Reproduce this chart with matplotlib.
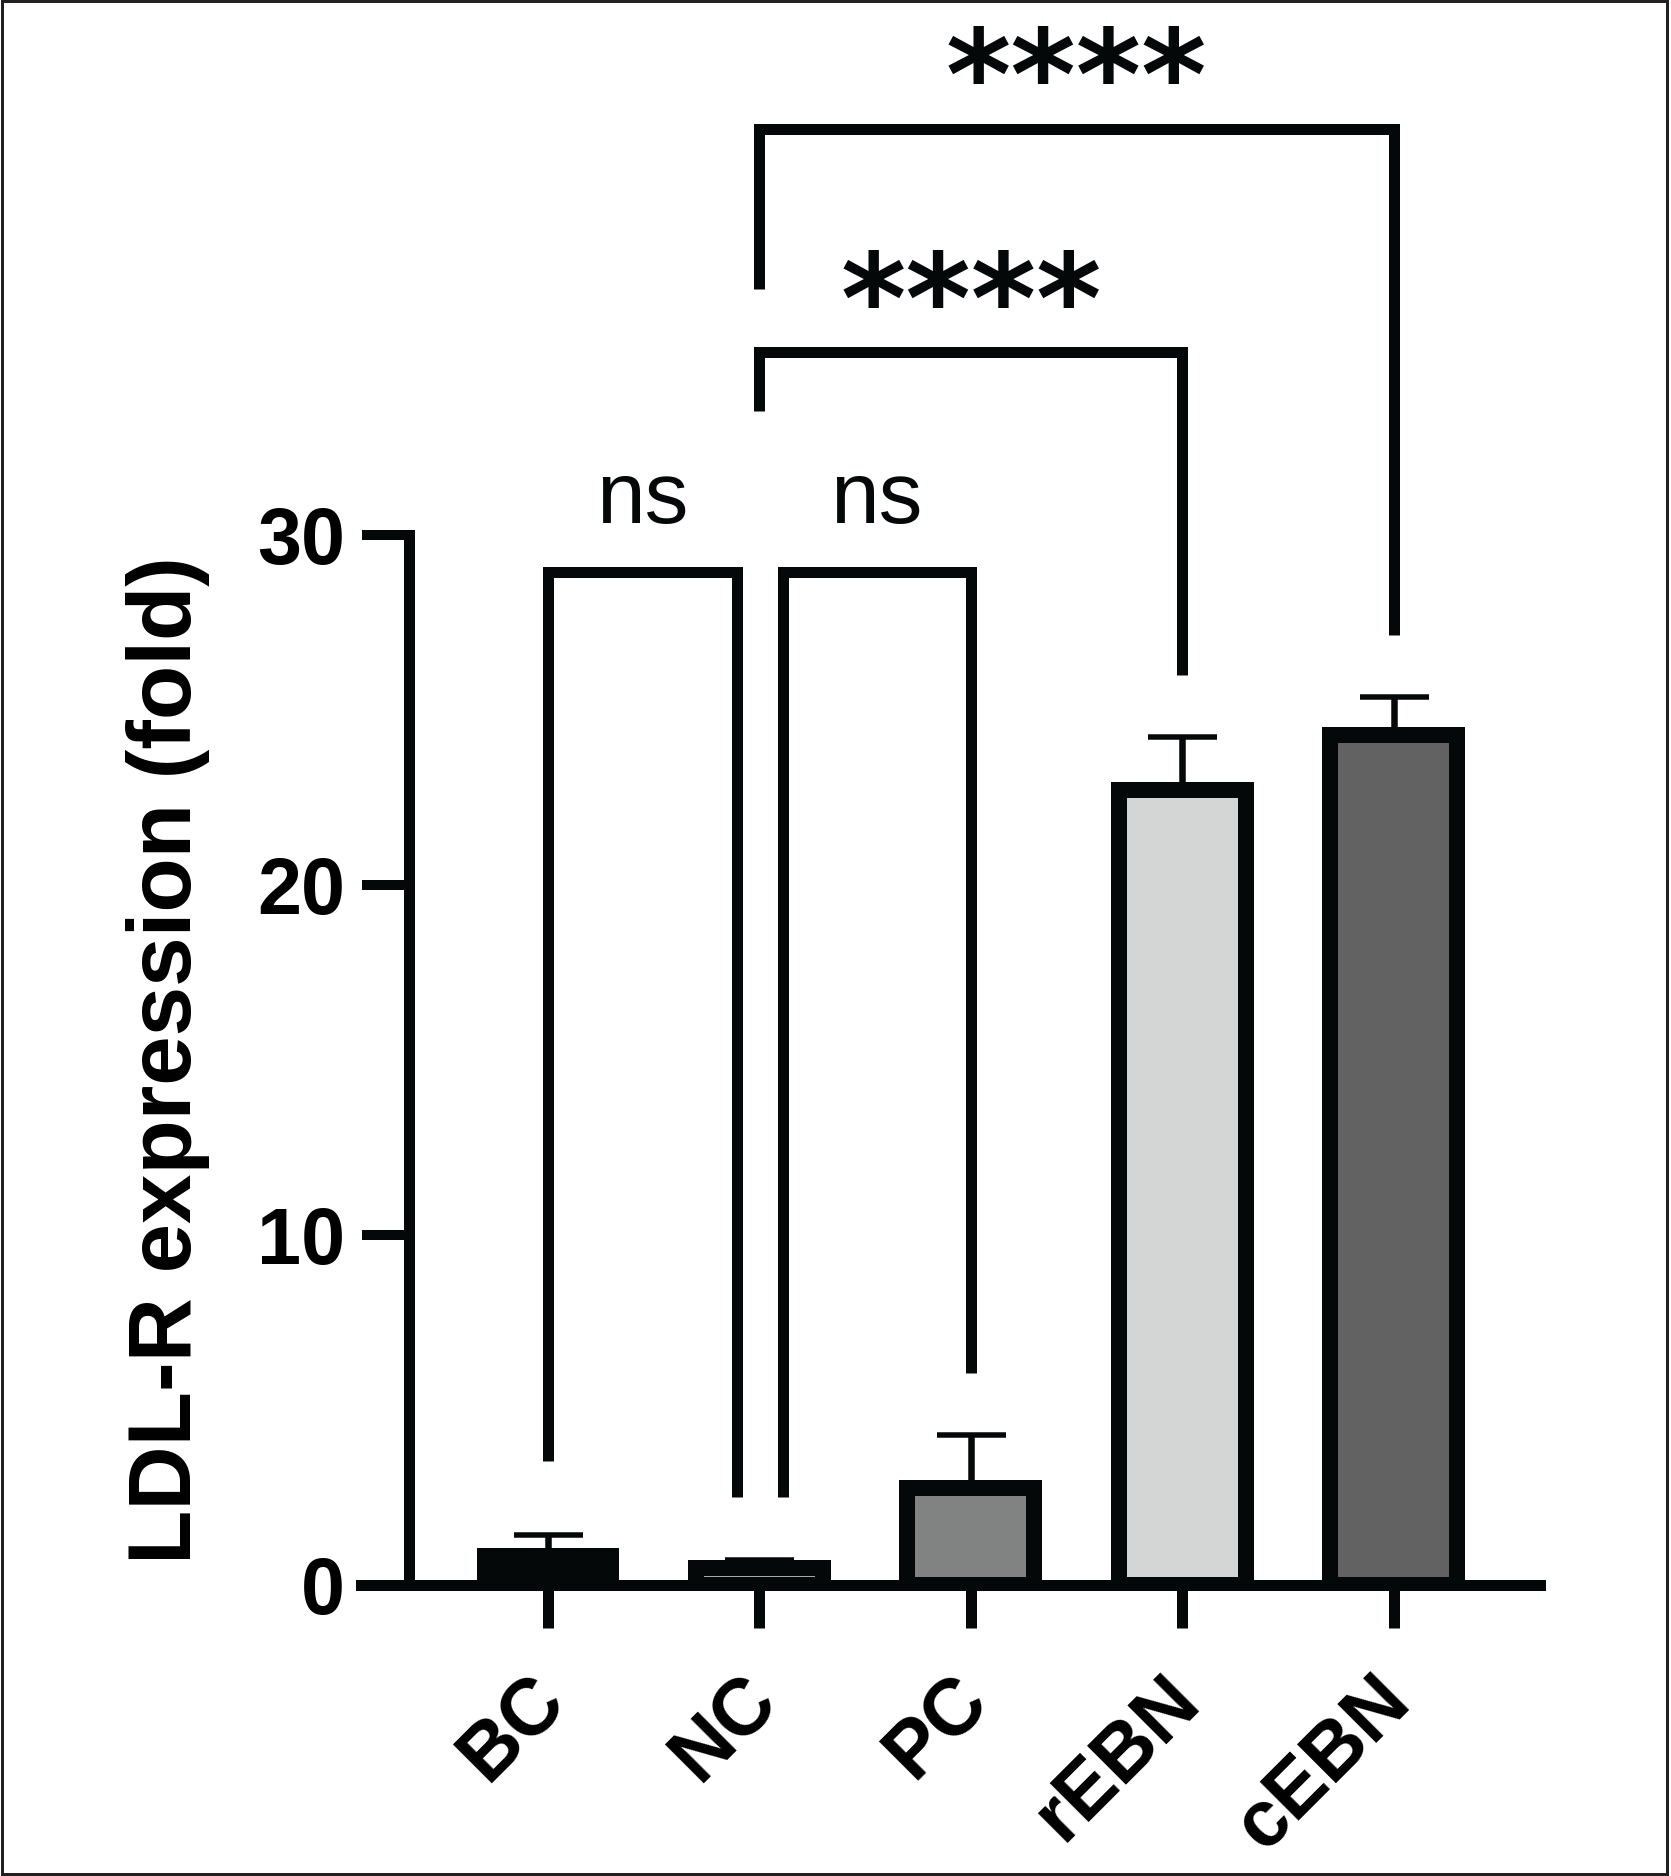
import numpy as np
import matplotlib
matplotlib.use('Agg')
import matplotlib.pyplot as plt
from matplotlib import transforms
from matplotlib.patches import Rectangle

plt.rcParams['font.family'] = ['Liberation Sans', 'DejaVu Sans']

# data
groups = ['BC', 'NC', 'PC', 'rEBN', 'cEBN']
means = [0.82, 0.48, 2.76, 22.70, 24.29]
err_up = [0.62, 0.23, 1.53, 1.52, 1.08]
fill_colors = ['#050808', '#a7a9aa', '#808382', '#d3d6d5', '#626262']
yticks = [0, 10, 20, 30]

# multiple comparisons (group index pairs) and their labels
pairs = [(0, 1), (1, 2), (1, 3), (1, 4)]
sig_labels = ['ns', 'ns', '****', '****']
# bracket geometry (y in data units)
bar_top = [28.94, 28.94, 35.23, 41.59]
leg_left = [3.55, 2.51, 33.55, 37.04]
leg_right = [2.51, 6.06, 26.0, 27.14]
inset_left = [0.0, 0.11, 0.0, 0.0]
inset_right = [-0.105, 0.0, 0.0, 0.0]
text_y = [30.33, 30.33, 35.5, 41.9]
text_size = [63, 63, 90, 90]
text_font = ['Liberation Sans', 'Liberation Sans', 'DejaVu Sans', 'DejaVu Sans']
text_weight = ['normal', 'normal', 'bold', 'bold']

BLACK = '#050808'
PT = 0.72  # points per pixel at dpi 100
W, H = 1671, 1876

fig = plt.figure(figsize=(W / 100, H / 100), dpi=100)
ax = fig.add_axes([361 / W, 1 - 1585 / H, (1539.5 - 361) / W, 1540 / H])

x = np.arange(len(groups))
ax.bar(x, means, width=0.6, color=fill_colors, edgecolor=BLACK,
       linewidth=16 * PT, zorder=3)
ax.errorbar(x, means, yerr=[np.zeros(len(x)), err_up], fmt='none',
            ecolor=BLACK, elinewidth=6.5 * PT, capsize=34.5 * PT,
            capthick=5.5 * PT, zorder=2)

ax.set_xlim(-0.885, 4.69)
ax.set_ylim(0, 44)
ax.spines['top'].set_visible(False)
ax.spines['right'].set_visible(False)
ax.spines['left'].set_position(('data', -0.6575))
ax.spines['left'].set_bounds(0, 30)
ax.spines['left'].set_linewidth(11 * PT)
ax.spines['bottom'].set_linewidth(11 * PT)
ax.spines['left'].set_color(BLACK)
ax.spines['bottom'].set_color(BLACK)

ax.set_yticks(yticks, labels=[str(t) for t in yticks], fontweight='bold')
ax.tick_params(axis='y', length=47 * PT, width=10 * PT, pad=17 * PT,
               labelsize=57, color=BLACK)
ax.set_xticks(x, labels=groups, rotation=45, ha='right', va='baseline',
              rotation_mode='anchor', fontweight='bold')
ax.tick_params(axis='x', length=43 * PT, width=11 * PT, pad=75 * PT,
               labelsize=57, color=BLACK)
shift = transforms.ScaledTranslation(20 / 100, 0, fig.dpi_scale_trans)
for lab in ax.get_xticklabels():
    lab.set_transform(lab.get_transform() + shift)

ax.set_ylabel('LDL-R expression (fold)', fontsize=64, fontweight='bold')
ax.yaxis.set_label_coords(210 / W, 15,
                          transform=transforms.blended_transform_factory(fig.transFigure, ax.transData))

# significance brackets
for k, (i, j) in enumerate(pairs):
    xl = x[i] + inset_left[k]
    xr = x[j] + inset_right[k]
    ax.plot([xl, xl, xr, xr], [leg_left[k], bar_top[k], bar_top[k], leg_right[k]],
            color=BLACK, lw=11 * PT, solid_joinstyle='miter',
            solid_capstyle='butt', clip_on=False, zorder=4)
    ax.text((xl + xr) / 2, text_y[k], sig_labels[k], ha='center', va='baseline',
            fontsize=text_size[k], family=text_font[k], fontweight=text_weight[k],
            color=BLACK, clip_on=False, zorder=5)

# thin frame round the picture
fig.patches.append(Rectangle((1.5 / W, 2 / H), (1666.5 - 1.5) / W, (1875 - 2) / H,
                             transform=fig.transFigure, fill=False,
                             edgecolor='#231f20', linewidth=3 * PT))

fig.savefig('out.png', dpi=100)
